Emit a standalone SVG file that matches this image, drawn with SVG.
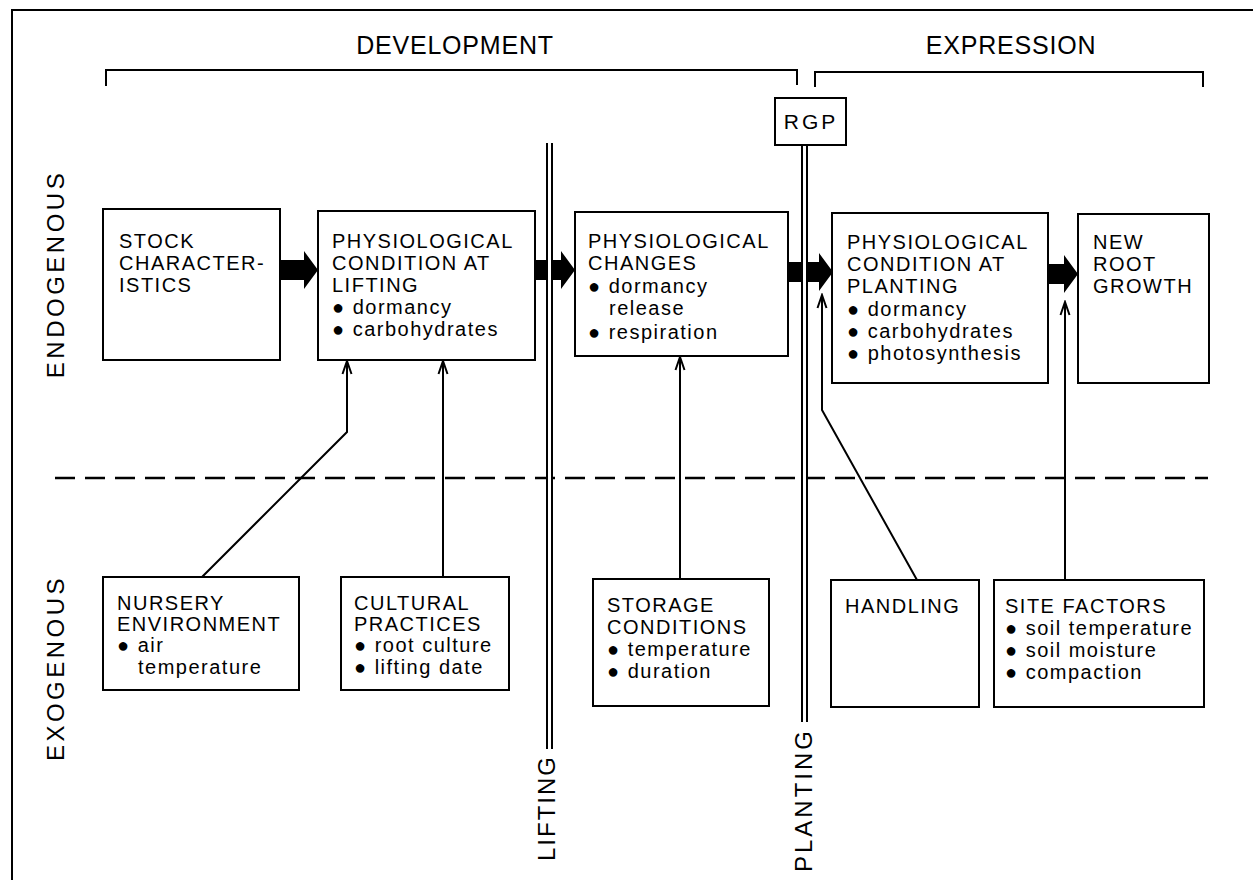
<svg xmlns="http://www.w3.org/2000/svg" width="1253" height="880" viewBox="0 0 1253 880">
<defs>
<style>
.bx{fill:#fff;stroke:#000;stroke-width:2}
.t{font-family:"Liberation Sans",Arial,sans-serif;font-size:20px;letter-spacing:1.5px;fill:#000}
.big{font-family:"Liberation Sans",Arial,sans-serif;font-size:25px;letter-spacing:0.8px;fill:#000}
.side{font-family:"Liberation Sans",Arial,sans-serif;font-size:24px;letter-spacing:3.5px;fill:#000}
.ln{fill:none;stroke:#000;stroke-width:2}
.fat{fill:#000}
.dl{fill:#fff;stroke:none}
</style>
<marker id="ah" markerUnits="userSpaceOnUse" viewBox="-1 -7 17 14" markerWidth="17" markerHeight="14" refX="14" refY="0" orient="auto">
<path d="M1,-4.5 L14,0 L1,4.5" fill="none" stroke="#000" stroke-width="2"/>
</marker>
</defs>

<g id="frame">
<path class="ln" d="M12,880 L12,10 L1253,10"/>
</g>

<g id="headers">
<text class="big" x="455" y="54" text-anchor="middle">DEVELOPMENT</text>
<path class="ln" d="M106,86 L106,70 L797,70 L797,85"/>
<text class="big" x="1011" y="54" text-anchor="middle">EXPRESSION</text>
<path class="ln" d="M815,87 L815,72 L1203,72 L1203,87"/>
<text class="side" transform="translate(64,274) rotate(-90)" text-anchor="middle">ENDOGENOUS</text>
<text class="side" transform="translate(64,668) rotate(-90)" text-anchor="middle">EXOGENOUS</text>
</g>

<g id="divider">
<line x1="55" y1="478" x2="1208" y2="478" stroke="#000" stroke-width="2.5" stroke-dasharray="20 10"/>
</g>

<g id="connectors">
<polygon class="fat" points="280,260 304,260 304,251 318,270 304,289 304,280 280,280"/>
<polygon class="fat" points="535,260 561,260 561,251 575,270 561,289 561,280 535,280"/>
<polygon class="fat" points="788,262 819,262 819,253 833,272 819,291 819,282 788,282"/>
<polygon class="fat" points="1048,264 1064,264 1064,255 1078,274 1064,293 1064,284 1048,284"/>
<path class="ln" d="M202,577 L347,432 L347,361" marker-end="url(#ah)"/>
<path class="ln" d="M443,577 L443,361" marker-end="url(#ah)"/>
<path class="ln" d="M680,579 L680,357" marker-end="url(#ah)"/>
<path class="ln" d="M917,580 L822,410 L822,295" marker-end="url(#ah)"/>
<path class="ln" d="M1065,580 L1065,302" marker-end="url(#ah)"/>
</g>

<g id="lifting">
<rect class="dl" x="547" y="143" width="5" height="606"/>
<line x1="547" y1="143" x2="547" y2="749" stroke="#000" stroke-width="2"/>
<line x1="552" y1="143" x2="552" y2="749" stroke="#000" stroke-width="2"/>
<text class="side" style="letter-spacing:2px" transform="translate(555,808) rotate(-90)" text-anchor="middle">LIFTING</text>
</g>

<g id="planting">
<rect class="dl" x="802" y="145" width="5" height="577"/>
<line x1="802" y1="145" x2="802" y2="722" stroke="#000" stroke-width="2"/>
<line x1="807" y1="145" x2="807" y2="722" stroke="#000" stroke-width="2"/>
<text class="side" style="letter-spacing:3px" transform="translate(812,800) rotate(-90)" text-anchor="middle">PLANTING</text>
</g>

<g id="rgp">
<rect class="bx" x="775" y="98" width="71" height="47"/>
<text class="t" style="font-size:21px;letter-spacing:3px" x="811" y="129" text-anchor="middle">RGP</text>
</g>

<g id="stock">
<rect class="bx" x="103" y="209" width="177" height="151"/>
<text class="t" x="119" y="248">STOCK</text>
<text class="t" x="119" y="270">CHARACTER-</text>
<text class="t" x="119" y="292">ISTICS</text>
</g>

<g id="cond-lifting">
<rect class="bx" x="318" y="211" width="217" height="149"/>
<text class="t" x="332" y="248">PHYSIOLOGICAL</text>
<text class="t" x="332" y="270">CONDITION AT</text>
<text class="t" x="332" y="292">LIFTING</text>
<text class="t" x="332" y="314">● dormancy</text>
<text class="t" x="332" y="336">● carbohydrates</text>
</g>

<g id="changes">
<rect class="bx" x="575" y="212" width="213" height="144"/>
<text class="t" x="588" y="248">PHYSIOLOGICAL</text>
<text class="t" x="588" y="270">CHANGES</text>
<text class="t" x="588" y="293">● dormancy</text>
<text class="t" x="609" y="315">release</text>
<text class="t" x="588" y="339">● respiration</text>
</g>

<g id="cond-planting">
<rect class="bx" x="832" y="213" width="216" height="170"/>
<text class="t" x="847" y="249">PHYSIOLOGICAL</text>
<text class="t" x="847" y="271">CONDITION AT</text>
<text class="t" x="847" y="293">PLANTING</text>
<text class="t" x="847" y="316">● dormancy</text>
<text class="t" x="847" y="338">● carbohydrates</text>
<text class="t" x="847" y="360">● photosynthesis</text>
</g>

<g id="new-root">
<rect class="bx" x="1078" y="214" width="131" height="169"/>
<text class="t" x="1093" y="249">NEW</text>
<text class="t" x="1093" y="271">ROOT</text>
<text class="t" x="1093" y="293">GROWTH</text>
</g>

<g id="nursery">
<rect class="bx" x="103" y="577" width="196" height="113"/>
<text class="t" x="117" y="610">NURSERY</text>
<text class="t" x="117" y="631">ENVIRONMENT</text>
<text class="t" x="117" y="652">● air</text>
<text class="t" x="138" y="674">temperature</text>
</g>

<g id="cultural">
<rect class="bx" x="341" y="577" width="168" height="113"/>
<text class="t" x="354" y="610">CULTURAL</text>
<text class="t" x="354" y="631">PRACTICES</text>
<text class="t" x="354" y="652">● root culture</text>
<text class="t" x="354" y="674">● lifting date</text>
</g>

<g id="storage">
<rect class="bx" x="593" y="579" width="176" height="127"/>
<text class="t" x="607" y="612">STORAGE</text>
<text class="t" x="607" y="634">CONDITIONS</text>
<text class="t" x="607" y="656">● temperature</text>
<text class="t" x="607" y="678">● duration</text>
</g>

<g id="handling">
<rect class="bx" x="831" y="580" width="148" height="127"/>
<text class="t" x="845" y="613">HANDLING</text>
</g>

<g id="site">
<rect class="bx" x="994" y="580" width="210" height="127"/>
<text class="t" x="1005" y="613">SITE FACTORS</text>
<text class="t" x="1005" y="635">● soil temperature</text>
<text class="t" x="1005" y="657">● soil moisture</text>
<text class="t" x="1005" y="679">● compaction</text>
</g>
</svg>
